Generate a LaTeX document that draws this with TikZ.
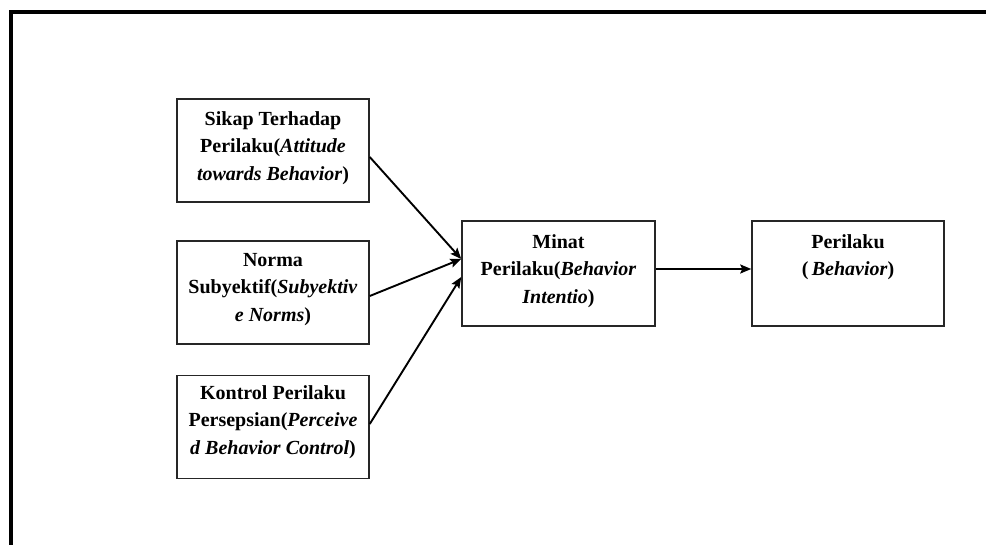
\documentclass[tikz,border=0pt]{standalone}
\usepackage{fontspec}
\setmainfont{Liberation Serif}
\usetikzlibrary{arrows.meta}
\begin{document}
\begin{tikzpicture}[x=1pt,y=-1pt,
  box/.style={draw=black!85,line width=1.5pt,minimum width=192pt,minimum height=103pt,inner sep=0pt},
  txt/.style={anchor=north,align=center,inner sep=0pt,font=\fontsize{20}{27.5}\selectfont\bfseries},
  conn/.style={line width=1.9pt,-{Stealth[length=11pt,width=9pt,inset=2pt]}},
  frame/.style={line width=4pt}]
\useasboundingbox (0,0) rectangle (986,545);
\fill[white] (0,0) rectangle (986,545);
\coordinate (ftr) at (986,12);
\coordinate (ftl) at (11,12);
\coordinate (fbl) at (11,545);
\draw[frame] (ftr) -- (ftl) -- (fbl);
% boxes
\node[box] (b1) at (273,150.5) {};
\node[box] (b2) at (273,292.5) {};
\node[box] (b3) at (273,427) {};
\node[box,minimum width=193pt,minimum height=105pt] (mi) at (558.5,273.5) {};
\node[box,minimum width=192pt,minimum height=105pt] (pe) at (848,273.5) {};
% texts
\node[txt] (t1) at (273,111) {Sikap Terhadap\\Perilaku(\textit{Attitude}\\\textit{towards Behavior})};
\node[txt] (t2) at (273,253) {Norma\\Subyektif(\textit{Subyektiv}\\\textit{e Norms})};
\node[txt] (t3) at (273,385) {Kontrol Perilaku\\Persepsian(\textit{Perceive}\\\textit{d Behavior Control})};
\node[txt] (t4) at (558.5,234) {Minat\\Perilaku(\textit{Behavior}\\\textit{Intentio})};
\node[txt] (t5) at (848,234) {Perilaku\\(\,\textit{Behavior})};
% connectors
\draw[conn] ([yshift=-6.5pt]b1.east) -- ([yshift=14.5pt]mi.west);
\draw[conn] ([yshift=-3.5pt]b2.east) -- ([yshift=14.5pt]mi.west);
\draw[conn] ([yshift=3pt]b3.east) -- ([yshift=-3.5pt]mi.west);
\draw[conn] ([yshift=4.5pt]mi.east) -- ([yshift=4.5pt]pe.west);
\end{tikzpicture}
\end{document}
